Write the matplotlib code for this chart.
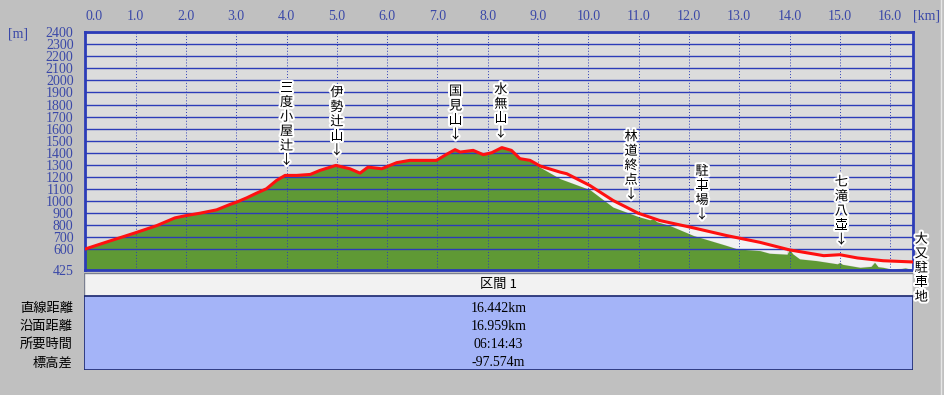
import numpy as np
import matplotlib
matplotlib.use("Agg")
import matplotlib.pyplot as plt
import matplotlib.patheffects as pe
from matplotlib.patches import Rectangle
from matplotlib.lines import Line2D

# route (GPS track) profile, km / m
route_km = [0.0, 0.5, 1.0, 1.42, 1.78, 2.0, 2.28, 2.61, 2.87, 3.0, 3.21, 3.4, 3.6, 3.8,
            3.97, 4.2, 4.47, 4.66, 4.98, 5.26, 5.46, 5.62, 5.89, 6.19, 6.45, 6.98, 7.18,
            7.35, 7.45, 7.71, 7.91, 8.08, 8.28, 8.47, 8.64, 8.84, 9.04, 9.44, 9.57, 10.03,
            10.49, 10.99, 11.42, 12.09, 12.75, 13.41, 14.0, 14.68, 15.0, 15.35, 15.86, 16.44]
route_elev = [600, 668, 735, 794, 858, 877, 897, 925, 969, 988, 1025, 1063, 1100, 1169,
              1211, 1211, 1219, 1252, 1294, 1266, 1230, 1280, 1266, 1317, 1336, 1336, 1386,
              1425, 1405, 1419, 1383, 1400, 1442, 1419, 1350, 1336, 1289, 1238, 1225, 1127,
              1003, 897, 836, 775, 711, 655, 592, 544, 552, 525, 502, 492]

# terrain (map) profile
terrain_km = [0.0, 0.5, 1.0, 1.42, 1.78, 2.0, 2.28, 2.61, 2.87, 3.0, 3.21, 3.4, 3.6, 3.8,
              3.97, 4.2, 4.47, 4.66, 4.98, 5.26, 5.46, 5.62, 5.89, 6.19, 6.45, 6.98, 7.18,
              7.35, 7.45, 7.71, 7.91, 8.08, 8.28, 8.47, 8.64, 8.84, 9.04, 9.44, 10.03,
              10.49, 10.99, 11.22, 11.29, 11.36, 11.62, 12.09, 12.75, 12.96, 13.41, 13.6,
              13.95, 14.0, 14.06, 14.2, 14.53, 14.95, 15.0, 15.05, 15.4, 15.62, 15.69,
              15.76, 15.86, 16.05, 16.2, 16.3, 16.44]
terrain_elev = [600, 668, 735, 794, 858, 877, 897, 925, 969, 988, 1025, 1063, 1100, 1169,
                1211, 1211, 1219, 1252, 1294, 1266, 1230, 1280, 1266, 1317, 1336, 1336, 1386,
                1425, 1405, 1419, 1383, 1400, 1442, 1419, 1350, 1330, 1278, 1183, 1092,
                947, 869, 842, 850, 826, 794, 711, 628, 600, 586, 564,
                556, 598, 560, 517, 503, 476, 488, 472, 447, 455, 489,
                452, 447, 430, 436, 442, 430]

places = ["三度小屋辻", "伊勢辻山", "国見山", "水無山", "林道終点", "駐車場", "七滝八壷"]
places_km = [4.0, 5.0, 7.36, 8.26, 10.85, 12.26, 15.03]
goal_name = "大又駐車地"

x_ticks = np.arange(0, 17, 1.0)
y_ticks = [425] + list(range(600, 2401, 100))

row_names = ["直線距離", "沿面距離", "所要時間", "標高差"]
row_values = ["16.442km", "16.959km", "06:14:43", "-97.574m"]
section_title = "区間 1"

blue = "#2c3cb8"
label_blue = "#3a48a8"
cjk = ["Noto Sans CJK JP", "DejaVu Sans"]
num_font = ["Liberation Serif", "DejaVu Serif"]

fig = plt.figure(figsize=(9.44, 3.95), dpi=100, facecolor="#c0c0c0")
W, H = 944, 395
ax = fig.add_axes([85.4 / W, 1 - 270 / H, (913.3 - 85.4) / W, (270 - 32.3) / H])
ax.set_facecolor("#dcdcdc")
ax.set_xlim(0, 16.46)
ax.set_ylim(425, 2400)

# common grid for the band between track and terrain
xx = np.union1d(route_km, terrain_km)
r_i = np.interp(xx, route_km, route_elev)
t_i = np.interp(xx, terrain_km, terrain_elev)
ax.fill_between(xx, t_i, r_i, where=r_i > t_i, color="#f2f2f2", lw=0, zorder=1)
ax.fill_between(terrain_km, terrain_elev, 425, color="#5f9935", lw=0, zorder=1.2)
ax.plot(route_km, route_elev, color="#ff1010", lw=2.2, zorder=3)

ax.set_axisbelow(False)
ax.set_yticks(y_ticks)
ax.set_yticklabels([str(v) for v in y_ticks])
ax.set_xticks(x_ticks)
ax.set_xticklabels([f"{v:.1f}" for v in x_ticks])
ax.xaxis.tick_top()
ax.grid(axis="y", color=blue, lw=1.0, zorder=2)
ax.grid(axis="x", color=blue, lw=0.7, ls=(0, (1, 2)), zorder=2)
ax.tick_params(axis="both", length=0, colors=label_blue)
ax.tick_params(axis="y", pad=8.5, labelsize=10)
ax.tick_params(axis="x", pad=6.5, labelsize=10)
for lab in ax.get_xticklabels() + ax.get_yticklabels():
    lab.set_family(num_font)
ax.xaxis.get_major_ticks()[0].label2.set_horizontalalignment("left")
for s in ax.spines.values():
    s.set_color(blue)
    s.set_linewidth(2)

fig.text(927 / W, 1 - 16 / H, "[km]", color=label_blue, family=num_font,
         fontsize=10, ha="center", va="center")
fig.text(18 / W, 1 - 34 / H, "[m]", color=label_blue, family=num_font,
         fontsize=10, ha="center", va="center")

halo = [pe.withStroke(linewidth=3, foreground="white")]
for name, km in zip(places, places_km):
    y = np.interp(km, route_km, route_elev)
    ax.annotate("\n".join(list(name) + ["↓"]), xy=(km, y), xytext=(0, 6),
                textcoords="offset points", ha="center", va="bottom",
                fontsize=9.5, family=cjk, linespacing=1.15, color="black",
                path_effects=halo, zorder=5)
ax.annotate("\n".join(goal_name), xy=(route_km[-1], route_elev[-1]), xytext=(6.5, 21),
            textcoords="offset points", ha="center", va="top", fontsize=9.5,
            family=cjk, linespacing=1.15, color="black", path_effects=halo,
            annotation_clip=False, zorder=6)

# summary table
tab = fig.add_axes([84 / W, 1 - 370 / H, (913 - 84) / W, (370 - 273) / H])
tab.set_xlim(0, 1)
tab.set_ylim(0, 1)
tab.axis("off")
head_bottom = 1 - 23 / 97
tab.add_patch(Rectangle((0, head_bottom), 1, 1 - head_bottom, facecolor="#f2f2f2",
                        edgecolor="#7a7f90", lw=1))
tab.add_patch(Rectangle((0, 0), 1, head_bottom, facecolor="#a4b4f8",
                        edgecolor="#1c2870", lw=1.2))
tab.text(0.5, (1 + head_bottom) / 2, section_title, ha="center", va="center",
         fontsize=9.5, family=cjk)
row_y = np.linspace(1 - 35.3 / 97, 1 - 89.7 / 97, len(row_names))
for name, val, y in zip(row_names, row_values, row_y):
    tab.text(-0.0135, y, name, ha="right", va="center", fontsize=9.5, family=cjk,
             clip_on=False)
    tab.text(0.5, y, val, ha="center", va="center", fontsize=10, family=num_font)

fig.add_artist(Line2D([941 / W, 941 / W], [0, 1], color="#e6e6e6", lw=1))

fig.savefig("out.png", dpi=100, facecolor=fig.get_facecolor())
